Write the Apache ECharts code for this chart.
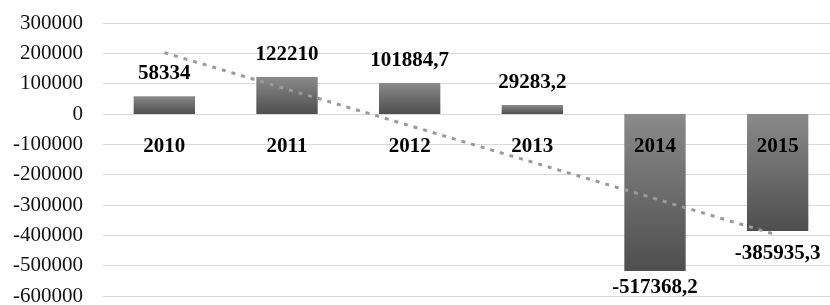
<!DOCTYPE html>
<html>
<head>
<meta charset="utf-8">
<style>
  html, body { margin: 0; padding: 0; background: #fff; }
  #chart { width: 830px; height: 305px; }
</style>
</head>
<body>
<div id="chart"></div>
<script src="https://cdn.jsdelivr.net/npm/echarts@6/dist/echarts.min.js"></script>
<script>
  const chart = echarts.init(document.getElementById('chart'));

  const years = ['2010', '2011', '2012', '2013', '2014', '2015'];
  const values = [58334, 122210, 101884.7, 29283.2, -517368.2, -385935.3];
  const valueLabels = ['58334', '122210', '101884,7', '29283,2', '-517368,2', '-385935,3'];
  // linear trend, read at first and last year
  const trend = [202300, null, null, null, null, -399500];

  const barColor = new echarts.graphic.LinearGradient(0, 0, 0, 1, [
    { offset: 0, color: '#8a8a8a' },
    { offset: 1, color: '#4e4e4e' }
  ]);

  const option = {
    animation: false,
    grid: { left: 103, right: -9, top: 23, bottom: 9, outerBoundsMode: 'none', containLabel: false },
    xAxis: {
      type: 'category',
      data: years,
      // onZero does not kick in here, so shift the axis up to the zero line
      offset: -182,
      axisLine: { show: false },
      axisTick: { show: false },
      axisLabel: {
        margin: 22,
        fontFamily: 'Liberation Serif',
        fontWeight: 'bold',
        fontSize: 21,
        color: '#000'
      },
      z: 10
    },
    yAxis: {
      type: 'value',
      min: -600000,
      max: 300000,
      interval: 100000,
      axisLine: { show: false },
      axisTick: { show: false },
      splitLine: { lineStyle: { color: '#d9d9d9', width: 1 } },
      axisLabel: {
        margin: 20,
        formatter: v => String(v),
        fontFamily: 'Liberation Serif',
        fontSize: 21,
        color: '#111'
      }
    },
    series: [
      {
        type: 'bar',
        barWidth: '50%',
        itemStyle: { color: barColor },
        label: {
          show: true,
          distance: 12,
          formatter: p => valueLabels[p.dataIndex],
          fontFamily: 'Liberation Serif',
          fontWeight: 'bold',
          fontSize: 21,
          color: '#000'
        },
        // negative bars take their labels below
        data: values.map((v, i) => ({
          value: v,
          label: { position: v < 0 ? 'bottom' : 'top', distance: i === 4 ? 6 : 12 }
        }))
      },
      {
        type: 'line',
        data: trend,
        connectNulls: true,
        showSymbol: false,
        symbol: 'none',
        lineStyle: { color: '#9a9a9a', width: 3, type: [4, 6] },
        z: 5
      }
    ]
  };

  chart.setOption(option);
</script>
</body>
</html>
